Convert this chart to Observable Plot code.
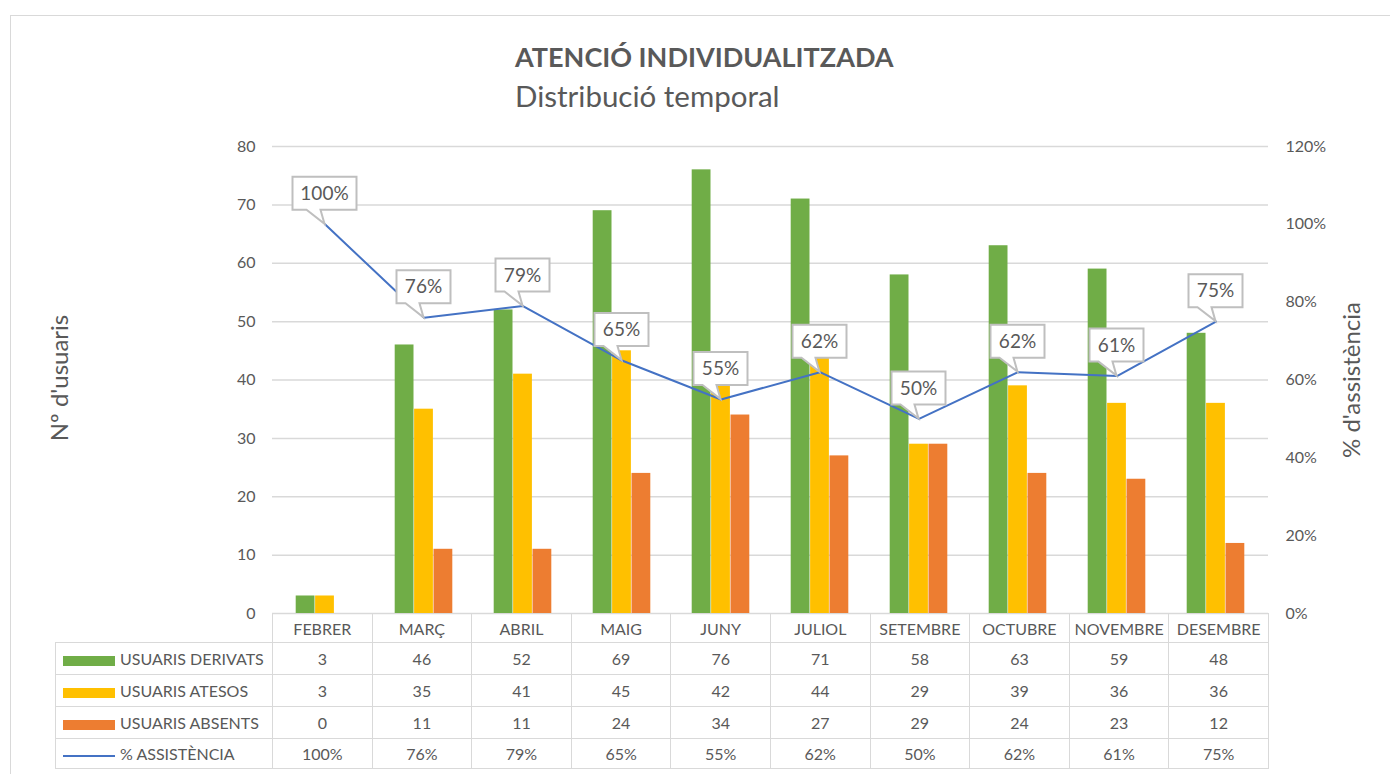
<!DOCTYPE html>
<html><head><meta charset="utf-8">
<script src="https://cdn.jsdelivr.net/npm/d3@7"></script>
<script src="https://cdn.jsdelivr.net/npm/@observablehq/plot@0.6"></script>
<style>
body{margin:0;background:#fff;font-family:Lato,"Open Sans",sans-serif;color:#595959}
#wrap{position:relative;width:1390px;height:774px;overflow:hidden;background:#fff}
#frame{position:absolute;left:10px;top:15px;width:1420px;height:820px;border:1.5px solid #d9d9d9;box-sizing:border-box}
#titles{position:absolute;left:515px;top:43px;line-height:1}
#t1{font-size:27px;font-weight:700;height:38px}
#t2{font-size:29.5px;font-weight:400}
#chart{position:absolute;left:0;top:0}
#tbl{position:absolute;left:55px;top:613px;border-collapse:collapse;table-layout:fixed;font-size:16px;color:#595959}
#tbl td{border:1.5px solid #d9d9d9;text-align:center;padding:0;white-space:nowrap;overflow:hidden}
#tbl td.blank{border:none}
#tbl td.key{text-align:left;padding-left:7px}
.sw{display:inline-block;width:52px;vertical-align:middle;margin-right:5px}
</style></head>
<body><div id="wrap">
<div id="frame"></div>
<div id="titles"><div id="t1">ATENCIÓ INDIVIDUALITZADA</div><div id="t2">Distribució temporal</div></div>
<div id="chart"></div>
<table id="tbl"></table>
</div>
<script>
const months = ["FEBRER","MARÇ","ABRIL","MAIG","JUNY","JULIOL","SETEMBRE","OCTUBRE","NOVEMBRE","DESEMBRE"];
const derivats = [3,46,52,69,76,71,58,63,59,48];
const atesos = [3,35,41,45,42,44,29,39,36,36];
const absents = [0,11,11,24,34,27,29,24,23,12];
const assistencia = [1.00,0.76,0.79,0.65,0.55,0.62,0.50,0.62,0.61,0.75];
const seriesNames = ["USUARIS DERIVATS","USUARIS ATESOS","USUARIS ABSENTS","% ASSISTÈNCIA"];
const colors = ["#70ad47","#ffc000","#ed7d31","#4472c4"];
const leftTicks = [0,10,20,30,40,50,60,70,80];
const rightTicks = [0,0.2,0.4,0.6,0.8,1.0,1.2];

const yMax = 80, pMax = 1.2, k = yMax / pMax;
const fmtPct = v => Math.round(v * 100) + "%";

const rows = months.map((m, i) => ({month: m, derivats: derivats[i], atesos: atesos[i], absents: absents[i], pct: assistencia[i]}));

const W = 1390, H = 640, ML = 272, MR = 122, MT = 146, MB = 27;
const bw = (W - ML - MR) / months.length;
const barW = 19.4, groupStart = (bw - 3 * barW) / 2;
const inset = j => ({insetLeft: groupStart + j * barW, insetRight: bw - groupStart - (j + 1) * barW});

function callouts(I, scales, values) {
  const half = scales.x.bandwidth ? scales.x.bandwidth() / 2 : 0;
  const g = d3.create("svg:g");
  for (const i of I) {
    const cx = values.x[i] + half, cy = values.y[i];
    const label = fmtPct(assistencia[i]);
    const w = label.length > 3 ? 64 : 54, h = 33;
    const bottom = cy - 14, top = bottom - h, left = cx - w / 2, right = cx + w / 2;
    g.append("path")
      .attr("d", `M${left},${top}H${right}V${bottom}H${cx - 4}L${cx},${cy}L${cx - 18},${bottom}H${left}Z`)
      .attr("fill", "#fff").attr("stroke", "#bfbfbf").attr("stroke-width", 2);
    g.append("text").attr("x", cx).attr("y", top + h / 2).attr("dy", "0.35em")
      .attr("text-anchor", "middle").attr("font-size", 19).attr("fill", "#595959").text(label);
  }
  return g.node();
}

const chart = Plot.plot({
  width: W, height: H,
  marginLeft: ML, marginRight: MR, marginTop: MT, marginBottom: MB,
  style: {fontFamily: "Lato, 'Open Sans', sans-serif", fontSize: "16px", color: "#595959", background: "transparent"},
  x: {domain: months, padding: 0, axis: null},
  y: {domain: [0, yMax], axis: null},
  marks: [
    Plot.gridY(leftTicks, {stroke: "#d9d9d9", strokeOpacity: 1, strokeWidth: 1.5}),
    Plot.axisY(leftTicks, {anchor: "left", tickSize: 0, tickPadding: 17, label: null, fontSize: 16}),
    Plot.axisY(rightTicks.map(v => v * k), {anchor: "right", tickSize: 0, tickPadding: 17, label: null, fontSize: 16, tickFormat: d => fmtPct(d / k)}),
    Plot.text(["Nº d'usuaris"], {frameAnchor: "left", dx: -212, dy: -2, rotate: -90, textAnchor: "middle", fontSize: 24}),
    Plot.text(["% d'assistència"], {frameAnchor: "right", dx: 84, rotate: -90, textAnchor: "middle", fontSize: 24}),
    Plot.barY(rows, {x: "month", y: "derivats", fill: colors[0], ...inset(0)}),
    Plot.barY(rows, {x: "month", y: "atesos", fill: colors[1], ...inset(1)}),
    Plot.barY(rows, {x: "month", y: "absents", fill: colors[2], ...inset(2)}),
    Plot.lineY(rows, {x: "month", y: d => d.pct * k, stroke: colors[3], strokeWidth: 2}),
    Plot.dot(rows, {x: "month", y: d => d.pct * k, r: 0, render: callouts})
  ]
});
document.getElementById("chart").appendChild(chart);

// data table
const tbl = d3.select("#tbl");
const cg = tbl.append("colgroup");
cg.append("col").style("width", "217px");
months.forEach(() => cg.append("col").style("width", bw + "px"));
const hr = tbl.append("tr").style("height", "29px");
hr.append("td").attr("class", "blank");
months.forEach(m => hr.append("td").text(m));
const tableSeries = [derivats, atesos, absents, assistencia.map(fmtPct)];
const rowH = [32, 32, 32, 30];
tableSeries.forEach((vals, j) => {
  const tr = tbl.append("tr").style("height", rowH[j] + "px");
  const td = tr.append("td").attr("class", "key");
  td.append("span").attr("class", "sw")
    .style("height", j < 3 ? "10px" : "2px").style("background", colors[j]);
  td.append("span").text(seriesNames[j]);
  vals.forEach(v => tr.append("td").text(v));
});
</script>
</body></html>
